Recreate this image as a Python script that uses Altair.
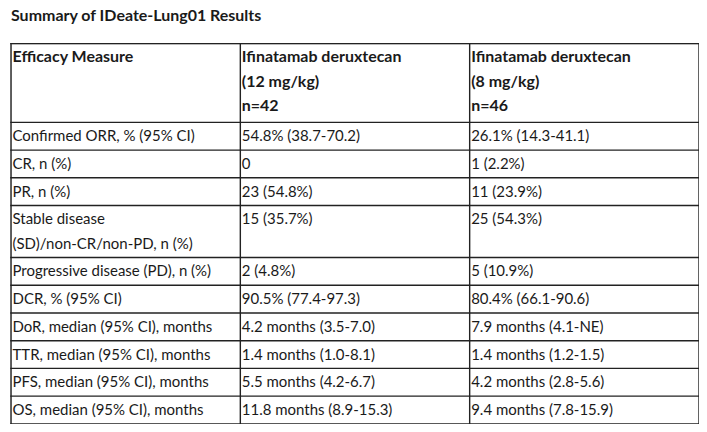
import altair as alt
import pandas as pd

TITLE = "Summary of IDeate-Lung01 Results"

header = [
    "Efficacy Measure",
    "Ifinatamab deruxtecan\n(12 mg/kg)\nn=42",
    "Ifinatamab deruxtecan\n(8 mg/kg)\nn=46",
]
measures = [
    "Confirmed ORR, % (95% CI)",
    "CR, n (%)",
    "PR, n (%)",
    "Stable disease\n(SD)/non-CR/non-PD, n (%)",
    "Progressive disease (PD), n (%)",
    "DCR, % (95% CI)",
    "DoR, median (95% CI), months",
    "TTR, median (95% CI), months",
    "PFS, median (95% CI), months",
    "OS, median (95% CI), months",
]
arm_12 = [
    "54.8% (38.7-70.2)",
    "0",
    "23 (54.8%)",
    "15 (35.7%)",
    "2 (4.8%)",
    "90.5% (77.4-97.3)",
    "4.2 months (3.5-7.0)",
    "1.4 months (1.0-8.1)",
    "5.5 months (4.2-6.7)",
    "11.8 months (8.9-15.3)",
]
arm_8 = [
    "26.1% (14.3-41.1)",
    "1 (2.2%)",
    "11 (23.9%)",
    "25 (54.3%)",
    "5 (10.9%)",
    "80.4% (66.1-90.6)",
    "7.9 months (4.1-NE)",
    "1.4 months (1.2-1.5)",
    "4.2 months (2.8-5.6)",
    "9.4 months (7.8-15.9)",
]

# ---- layout (in "text line" units, derived from the line counts) ----
FONT = "Lato"
TEXT_COLOR = "#1a1a1a"
LINE_COLOR = "#222222"
ROW_PAD = 0.14
HEADER_EXTRA = 0.1

table = [header] + [list(r) for r in zip(measures, arm_12, arm_8)]
ncols = len(header)

cells = []
hlines = [0.0]
y = 0.0
for r, row in enumerate(table):
    n = max(len(c.split("\n")) for c in row)
    pad = ROW_PAD + (HEADER_EXTRA if r == 0 else 0.0)
    for c, cell in enumerate(row):
        for i, line in enumerate(cell.split("\n")):
            cells.append(
                {"col": c, "y": y + ROW_PAD / 2 + 0.5 + i, "text": line,
                 "head": r == 0}
            )
    y += n + pad
    hlines.append(y)
total = y

cells_df = pd.DataFrame(cells)
h_df = pd.DataFrame({"y": hlines, "x0": 0, "x1": ncols})
v_df = pd.DataFrame({"x": list(range(ncols + 1)), "y0": 0.0, "y1": total})

xs = alt.Scale(domain=[0, ncols], nice=False, zero=False)
ys = alt.Scale(domain=[0, total], nice=False, zero=False, reverse=True)

hrules = alt.Chart(h_df).mark_rule(
    color=LINE_COLOR, strokeWidth=1.4, strokeCap="square"
).encode(
    x=alt.X("x0:Q", scale=xs, axis=None),
    x2="x1:Q",
    y=alt.Y("y:Q", scale=ys, axis=None),
)
vrules = alt.Chart(v_df).mark_rule(
    color=LINE_COLOR, strokeWidth=1.4, strokeCap="square"
).encode(
    x=alt.X("x:Q", scale=xs, axis=None),
    y=alt.Y("y0:Q", scale=ys, axis=None),
    y2="y1:Q",
)

base_text = alt.Chart(cells_df).encode(
    x=alt.X("col:Q", scale=xs, axis=None),
    y=alt.Y("y:Q", scale=ys, axis=None),
    text="text:N",
)
body = base_text.transform_filter("!datum.head").mark_text(
    align="left", baseline="middle", dx=1.5, font=FONT, fontSize=15,
    color=TEXT_COLOR,
)
head = base_text.transform_filter("datum.head").mark_text(
    align="left", baseline="middle", dx=1.5, font=FONT, fontSize=16,
    fontWeight="bold", color=TEXT_COLOR,
)

chart = (
    alt.layer(hrules, vrules, body, head)
    .properties(
        width=688.5,
        height=380.5,
        autosize=alt.AutoSizeParams(type="none"),
        padding={"left": 3, "top": 35.5, "right": 0, "bottom": 0},
        title=alt.TitleParams(
            TITLE, anchor="start", font=FONT, fontSize=16, fontWeight="bold",
            color=TEXT_COLOR, offset=19, dx=1,
        ),
    )
    .configure_view(stroke=None)
    .configure(background="white")
)

chart.save("out.html", embed_options={"renderer": "svg", "actions": False})
